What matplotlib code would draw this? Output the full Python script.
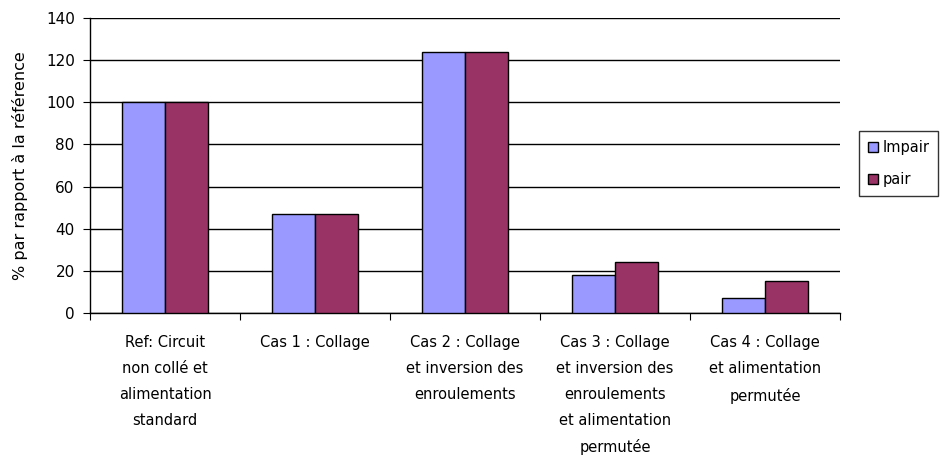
import matplotlib.pyplot as plt
import numpy as np

plt.rcParams['font.family'] = ['DejaVu Sans']

# catégories et valeurs
categories = ["Ref: Circuit\nnon collé et\nalimentation\nstandard",
              "Cas 1 : Collage",
              "Cas 2 : Collage\net inversion des\nenroulements",
              "Cas 3 : Collage\net inversion des\nenroulements\net alimentation\npermutée",
              "Cas 4 : Collage\net alimentation\npermutée"]
impair = [100, 47, 124, 18, 7]
pair = [100, 47, 124, 24, 15]
yticks = [0, 20, 40, 60, 80, 100, 120, 140]

fig = plt.figure(figsize=(9.42, 4.59), dpi=100)
ax = fig.add_axes([90/942, 1 - 313/459, 750/942, 295/459])

x = np.arange(len(categories))
w = 0.287
ax.bar(x - w/2, impair, w, color="#9999FF", edgecolor="black", linewidth=1, label="Impair", zorder=3)
ax.bar(x + w/2, pair, w, color="#993366", edgecolor="black", linewidth=1, label="pair", zorder=3)

ax.set_xlim(-0.5, len(categories) - 0.5)
ax.set_ylim(0, 140)
ax.set_yticks(yticks)
ax.set_yticklabels([str(t) for t in yticks], fontsize=11)
ax.yaxis.grid(True, color="black", linewidth=1)
ax.set_axisbelow(True)

# ticks aux séparations des catégories
ax.set_xticks(np.arange(-0.5, len(categories), 1))
ax.set_xticklabels([])
ax.set_xticks(x, minor=True)
ax.set_xticklabels(categories, minor=True, fontsize=10.5, linespacing=1.9, va="top")
ax.tick_params(axis="x", which="minor", length=0, pad=16)
ax.tick_params(axis="x", which="major", length=5, color="black")
ax.tick_params(axis="y", length=5, color="black", pad=6)

for s in ["top", "right"]:
    ax.spines[s].set_visible(False)
ax.spines["left"].set_linewidth(1)
ax.spines["bottom"].set_linewidth(1)

ax.set_ylabel("% par rapport à la référence", fontsize=11.5, labelpad=13)

leg = fig.legend(loc="upper left", bbox_to_anchor=(859/942, 1 - 131/459),
                 fontsize=10.5, frameon=True, fancybox=False, edgecolor="black",
                 handlelength=0.7, handleheight=0.7, handletextpad=0.3,
                 labelspacing=1.2, borderpad=0.6, borderaxespad=0)
leg.get_frame().set_linewidth(1)

fig.savefig("out.png", dpi=100)
